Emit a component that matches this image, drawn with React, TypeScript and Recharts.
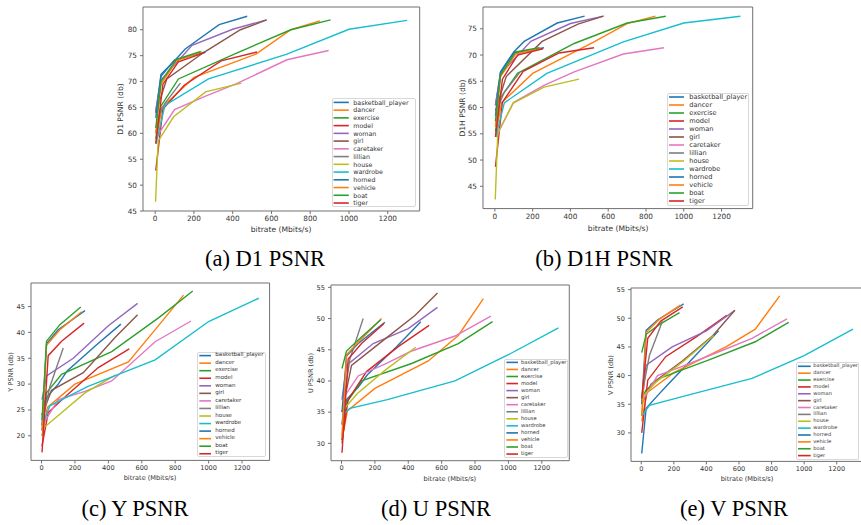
import React from 'react';
import { LineChart, Line, XAxis, YAxis, ReferenceArea } from 'recharts';

// sequence names, in legend order (matplotlib default colour cycle, wraps after 10)
const names = [
  'basketball_player', 'dancer', 'exercise', 'model', 'woman', 'girl', 'caretaker',
  'lillian', 'house', 'wardrobe', 'horned', 'vehicle', 'boat', 'tiger',
];
const colors = [
  '#1f77b4', '#ff7f0e', '#2ca02c', '#d62728', '#9467bd', '#8c564b', '#e377c2',
  '#7f7f7f', '#bcbd22', '#17becf', '#1f77b4', '#ff7f0e', '#2ca02c', '#d62728',
];

// bitrate (Mbits/s) of each rate point, per sequence
const bitrates = [
  [3, 30, 100, 155, 330, 475],
  [3, 35, 200, 520, 700, 850],
  [3, 30, 120, 420, 700, 905],
  [3, 40, 150, 340, 525],
  [3, 30, 190, 400, 575],
  [3, 60, 250, 440, 575],
  [5, 100, 260, 420, 680, 895],
  [3, 20, 50, 130],
  [2, 15, 95, 260, 445],
  [5, 50, 275, 680, 1000, 1300],
  [3, 30, 100, 260],
  [3, 30, 110, 240],
  [3, 30, 110, 235],
  [3, 40, 120, 255],
];

const d1Psnr = [
  [64, 71.4, 74.0, 76.3, 81.0, 82.6],
  [58, 65, 70.8, 75.3, 80.0, 81.7],
  [59, 65.3, 70.5, 75.5, 80.0, 81.9],
  [52.8, 64.7, 69.3, 74.0, 75.7],
  [64.5, 70.3, 77.0, 80.1, 81.9],
  [64, 70.5, 75.6, 80.0, 81.9],
  [59.2, 64.6, 67.2, 69.6, 74.2, 76.0],
  [60, 63.5, 65.8, 69.7],
  [46.8, 58.5, 63.2, 68.0, 69.7],
  [58, 65.4, 70.5, 75.3, 80.1, 81.8],
  [63, 71, 74.2, 75.7],
  [60, 69.5, 74.0, 75.7],
  [61, 70, 74.3, 75.8],
  [58, 69.5, 73.8, 75.6],
];

const d1hPsnr = [
  [60.4, 66.8, 70.6, 72.6, 76.1, 77.4],
  [54.4, 60.9, 66.5, 72.4, 76.0, 77.4],
  [55.4, 61.9, 66.5, 72.2, 76.1, 77.4],
  [48.7, 61.0, 66.9, 70.4, 71.4],
  [60.4, 66.4, 72.6, 76.0, 77.4],
  [59.4, 65.9, 72.6, 75.9, 77.4],
  [54.4, 61.0, 64.2, 66.8, 70.2, 71.4],
  [56.4, 60.4, 62.9, 66.6],
  [42.5, 55.0, 60.8, 63.9, 65.4],
  [54.4, 60.9, 66.5, 72.5, 76.1, 77.4],
  [58.4, 66.7, 70.4, 71.4],
  [56.4, 65.9, 70.2, 71.3],
  [57.4, 66.2, 70.6, 71.4],
  [54.4, 65.4, 70.0, 71.2],
];

const yPsnr = [
  [21, 27.4, 30.0, 32.6, 37.6, 41.6],
  [20, 25.5, 30.0, 34.3, 41.3, 47.2],
  [24, 28.3, 31.9, 36.3, 42.8, 48.0],
  [18, 24.5, 27.8, 33.2, 36.8],
  [27, 31.6, 35.0, 41.3, 45.6],
  [24, 28.8, 32.2, 39.0, 43.4],
  [22, 27.0, 28.6, 30.6, 38.2, 42.2],
  [22, 25, 29.5, 37.0],
  [20, 21.6, 23.8, 28.3, 31.8],
  [22, 25.8, 29.5, 34.7, 42.1, 46.6],
  [22, 37.8, 40.5, 44.2],
  [21, 37.5, 40.5, 44.0],
  [23, 38.3, 41.5, 44.9],
  [16.8, 35.5, 38.3, 41.8],
];

const uPsnr = [
  [33, 37, 39.0, 41.0, 45.5, 49.5],
  [30.5, 35.2, 38.8, 43.2, 47.3, 53.2],
  [30, 36.5, 40.0, 42.8, 46.0, 49.5],
  [30.5, 37, 41.5, 45.5, 48.9],
  [37, 42.5, 46.0, 48.4, 51.8],
  [35, 42.5, 46.5, 50.5, 54.1],
  [37, 40.8, 42.7, 44.8, 47.2, 50.4],
  [33, 38, 43.5, 50.0],
  [31, 35.5, 38.0, 41.7, 45.4],
  [34.5, 35.6, 37.0, 40.0, 44.2, 48.5],
  [35, 44.0, 46.0, 49.4],
  [31, 44.2, 46.5, 50.0],
  [42, 44.8, 46.8, 49.8],
  [28.5, 43.5, 46.0, 49.2],
];

const vPsnr = [
  [26.4, 34.3, 36.5, 38.2, 43.4, 47.8],
  [32, 37.0, 40.5, 45.0, 48.1, 53.9],
  [36, 37.5, 39.6, 42.8, 45.9, 49.3],
  [30, 39.2, 43.3, 46.8, 50.5],
  [36, 41.8, 45.0, 47.8, 51.4],
  [35, 38.5, 42.5, 47.0, 51.4],
  [35.5, 40.0, 41.7, 43.5, 46.5, 49.9],
  [35, 39, 43.5, 49.5],
  [33, 36.5, 39.0, 42.5, 47.0],
  [33, 34.8, 36.5, 39.5, 43.5, 48.1],
  [35, 47.9, 49.7, 52.5],
  [33, 47.5, 49.8, 52.3],
  [44, 47.2, 48.9, 51.0],
  [36, 46.5, 49.5, 52.0],
];

const xTicks = [0, 200, 400, 600, 800, 1000, 1200];
const xDomain: [number, number] = [-62.9, 1364.9];

const panels = [
  {
    key: 'a', values: d1Psnr, yLabel: 'D1 PSNR (db)', caption: '(a) D1 PSNR',
    yDomain: [45.01, 84.39], yTicks: [45, 50, 55, 60, 65, 70, 75, 80],
    L: 142.7, T: 6.7, R: 419.4, B: 210.7, font: 7.3, labelFont: 7.6,
    yLabelX: 121, xLabelY: 230, capX: 265, capY: 259,
    legend: { left: 331.7, top: 98.3, w: 84.5, h: 109, row0: 102.7, gap: 7.74, l0: 333.3, l1: 348.5, tx: 353.3, font: 6.3 },
  },
  {
    key: 'b', values: d1hPsnr, yLabel: 'D1H PSNR (db)', caption: '(b) D1H PSNR',
    yDomain: [40.75, 79.15], yTicks: [45, 50, 55, 60, 65, 70, 75],
    L: 483.3, T: 6.7, R: 753.0, B: 208.3, font: 7.3, labelFont: 7.6,
    yLabelX: 462.7, xLabelY: 228.7, capX: 604, capY: 259,
    legend: { left: 667.3, top: 93.3, w: 82, h: 112.7, row0: 97.3, gap: 8.0, l0: 669.3, l1: 684.3, tx: 689.3, font: 6.6 },
  },
  {
    key: 'c', values: yPsnr, yLabel: 'Y PSNR (db)', caption: '(c) Y PSNR',
    yDomain: [15.25, 49.55], yTicks: [20, 25, 30, 35, 40, 45],
    L: 30.7, T: 283.3, R: 269.3, B: 460.7, font: 6.6, labelFont: 6.6,
    yLabelX: 10.7, xLabelY: 478.3, capX: 135, capY: 509,
    legend: { left: 196.7, top: 351.7, w: 69.3, h: 105.6, row0: 355.3, gap: 7.55, l0: 199, l1: 210.7, tx: 215.3, font: 5.5 },
  },
  {
    key: 'd', values: uPsnr, yLabel: 'U PSNR (db)', caption: '(d) U PSNR',
    yDomain: [27.22, 55.38], yTicks: [30, 35, 40, 45, 50, 55],
    L: 330.7, T: 285.3, R: 569.0, B: 461.0, font: 6.6, labelFont: 6.6,
    yLabelX: 310.7, xLabelY: 479, capX: 436, capY: 509,
    legend: { left: 504.3, top: 359.3, w: 63.5, h: 99, row0: 362.7, gap: 7.05, l0: 506.7, l1: 518.3, tx: 521, font: 5.2 },
  },
  {
    key: 'e', values: vPsnr, yLabel: 'V PSNR (db)', caption: '(e) V PSNR',
    yDomain: [25.03, 55.28], yTicks: [30, 35, 40, 45, 50, 55],
    L: 630.7, T: 288.3, R: 863.3, B: 461.7, font: 6.6, labelFont: 6.6,
    yLabelX: 610.7, xLabelY: 479.3, capX: 734, capY: 509,
    legend: { left: 796, top: 362, w: 63, h: 98, row0: 366.3, gap: 6.87, l0: 798, l1: 810.7, tx: 813.3, font: 5.1 },
  },
];

const YW = 30;
const XH = 20;
const MT = 4;
const MR = 4;
const axisGray = '#6f6f6f';
const textGray = '#333';

const Legend = ({ lg }: { lg: any }) => (
  <>
    <div
      style={{
        position: 'absolute', left: lg.left, top: lg.top, width: lg.w, height: lg.h,
        boxSizing: 'border-box', border: '1px solid #d8d8d8', borderRadius: 2,
        background: 'rgba(255,255,255,0.85)',
      }}
    />
    <svg
      width={lg.w}
      height={lg.h}
      style={{ position: 'absolute', left: lg.left, top: lg.top, overflow: 'visible' }}
    >
      {names.map((n, i) => {
        const cy = lg.row0 + i * lg.gap - lg.top;
        return (
          <line
            key={n}
            x1={lg.l0 - lg.left}
            x2={lg.l1 - lg.left}
            y1={cy}
            y2={cy}
            stroke={colors[i]}
            strokeWidth={1.6}
          />
        );
      })}
    </svg>
    {names.map((n, i) => (
      <div
        key={n}
        style={{
          position: 'absolute', left: lg.tx, top: lg.row0 + i * lg.gap,
          transform: 'translateY(-50%)', fontSize: lg.font, lineHeight: 1,
          color: textGray, whiteSpace: 'nowrap',
        }}
      >
        {n}
      </div>
    ))}
  </>
);

const Panel = ({ p }: { p: any }) => {
  const series = names.map((_, i) => bitrates[i].map((x, j) => ({ x, y: p.values[i][j] })));
  const tickStyle = { fill: textGray, fontSize: p.font, fontFamily: 'DejaVu Sans' };
  return (
    <>
      <div style={{ position: 'absolute', left: p.L - YW, top: p.T - MT }}>
        <LineChart
          width={p.R - p.L + YW + MR}
          height={p.B - p.T + MT + XH}
          margin={{ top: MT, right: MR, left: 0, bottom: 0 }}
        >
          <XAxis
            type="number"
            dataKey="x"
            domain={xDomain}
            ticks={xTicks}
            interval={0}
            allowDataOverflow
            height={XH}
            tickSize={3}
            tickMargin={2}
            axisLine={false}
            tickLine={{ stroke: axisGray }}
            tick={tickStyle}
          />
          <YAxis
            type="number"
            domain={p.yDomain}
            ticks={p.yTicks}
            interval={0}
            allowDataOverflow
            width={YW}
            tickSize={3}
            tickMargin={3}
            axisLine={false}
            tickLine={{ stroke: axisGray }}
            tick={tickStyle}
          />
          {/* axes frame */}
          <ReferenceArea
            x1={xDomain[0]}
            x2={xDomain[1]}
            y1={p.yDomain[0]}
            y2={p.yDomain[1]}
            fill="none"
            stroke={axisGray}
            strokeWidth={1}
          />
          {series.map((d, i) => (
            <Line
              key={names[i]}
              data={d}
              dataKey="y"
              type="linear"
              stroke={colors[i]}
              strokeWidth={1.4}
              dot={false}
              activeDot={false}
              isAnimationActive={false}
            />
          ))}
        </LineChart>
      </div>

      {/* y label */}
      <div
        style={{
          position: 'absolute', left: p.yLabelX, top: (p.T + p.B) / 2,
          transform: 'translate(-50%, -50%) rotate(-90deg)', whiteSpace: 'nowrap',
          fontSize: p.labelFont, color: textGray, lineHeight: 1,
        }}
      >
        {p.yLabel}
      </div>

      {/* x label */}
      <div
        style={{
          position: 'absolute', left: (p.L + p.R) / 2, top: p.xLabelY,
          transform: 'translate(-50%, -50%)', whiteSpace: 'nowrap',
          fontSize: p.labelFont, color: textGray, lineHeight: 1,
        }}
      >
        bitrate (Mbits/s)
      </div>

      <Legend lg={p.legend} />

      {/* caption */}
      <div
        style={{
          position: 'absolute', left: p.capX, top: p.capY,
          transform: 'translate(-50%, -50%)', whiteSpace: 'nowrap',
          fontFamily: '"Liberation Serif", serif', fontSize: 22.5, lineHeight: 1, color: '#000',
        }}
      >
        {p.caption}
      </div>
    </>
  );
};

export default function App() {
  return (
    <div
      style={{
        position: 'absolute', left: 0, top: 0, width: 861, height: 525, overflow: 'hidden',
        background: '#fff', fontFamily: '"DejaVu Sans", sans-serif',
      }}
    >
      {panels.map((p) => (
        <Panel key={p.key} p={p} />
      ))}
    </div>
  );
}
